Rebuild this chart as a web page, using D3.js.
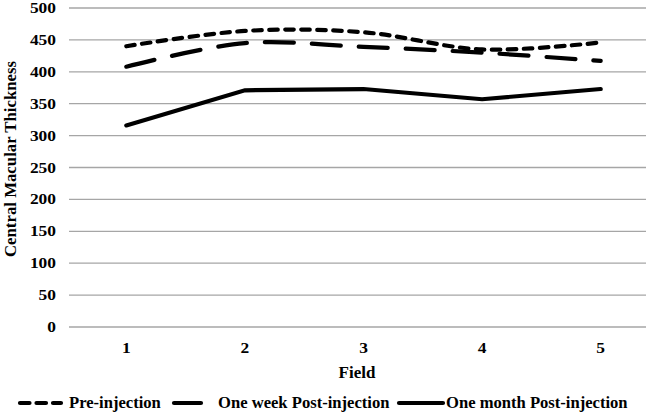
<!DOCTYPE html>
<html>
<head>
<meta charset="utf-8">
<script src="https://cdn.jsdelivr.net/npm/d3@7"></script>
<style>
  body { margin: 0; background: #fff; }
  text { font-family: "Liberation Serif", "Times New Roman", serif; font-weight: bold; fill: #000; }
</style>
</head>
<body>
<div id="chart"></div>
<script>
// chart data
const fields = ["1", "2", "3", "4", "5"];
const preInjection = [440, 464, 462, 435, 446];
const oneWeek = [408, 445, 439, 430, 417];
const oneMonth = [316, 371, 373, 357, 373];
const yTicks = [0, 50, 100, 150, 200, 250, 300, 350, 400, 450, 500];

const series = [
    { name: "Pre-injection", values: preInjection, dash: "8.5,7.5", smooth: true },
    { name: "One week Post-injection", values: oneWeek, dash: "29,18", smooth: true },
    { name: "One month Post-injection", values: oneMonth, dash: null, smooth: false }
];

const w = 646, h = 415;
const svg = d3.select("#chart").append("svg")
    .attr("width", w)
    .attr("height", h);

const x = d3.scaleBand().domain(fields).range([67, 660]);
const y = d3.scaleLinear().domain([0, 500]).range([327, 8]);

// gridlines
svg.append("g")
    .selectAll("line")
    .data(yTicks)
    .enter()
    .append("line")
    .attr("x1", 69)
    .attr("x2", w)
    .attr("y1", d => y(d))
    .attr("y2", d => y(d))
    .attr("stroke", "#a6a6a6")
    .attr("stroke-width", 1.3);

// y labels (digits in the reference are a bit wide, so stretch them)
svg.append("g")
    .selectAll("text")
    .data(yTicks)
    .enter()
    .append("text")
    .attr("transform", d => `translate(56, ${y(d) + 5}) scale(1.2, 1)`)
    .attr("text-anchor", "end")
    .style("font-size", "14.5px")
    .text(d => d);

// x labels
svg.append("g")
    .selectAll("text")
    .data(fields)
    .enter()
    .append("text")
    .attr("transform", d => `translate(${x(d) + x.bandwidth() / 2}, 353) scale(1.2, 1)`)
    .attr("text-anchor", "middle")
    .style("font-size", "14.5px")
    .text(d => d);

svg.append("text")
    .attr("x", 357)
    .attr("y", 378)
    .attr("text-anchor", "middle")
    .style("font-size", "17px")
    .text("Field");

svg.append("text")
    .attr("transform", "translate(16,159) rotate(-90)")
    .attr("text-anchor", "middle")
    .style("font-size", "16.8px")
    .text("Central Macular Thickness");

// lines
series.forEach(s => {
    const line = d3.line()
        .x((d, i) => x(fields[i]) + x.bandwidth() / 2)
        .y(d => y(d))
        .curve(s.smooth ? d3.curveCatmullRom.alpha(0.5) : d3.curveLinear);
    svg.append("path")
        .datum(s.values)
        .attr("d", line)
        .attr("fill", "none")
        .attr("stroke", "#000")
        .attr("stroke-width", 4.2)
        .attr("stroke-linecap", "round")
        .attr("stroke-dasharray", s.dash);
});

// legend
const legendPos = [
    { sx1: 20, sx2: 61, tx: 69 },
    { sx1: 174, sx2: 201, tx: 218 },
    { sx1: 399, sx2: 443, tx: 446 }
];
series.forEach((s, i) => {
    const p = legendPos[i];
    svg.append("line")
        .attr("x1", p.sx1).attr("x2", p.sx2)
        .attr("y1", 403).attr("y2", 403)
        .attr("stroke", "#000")
        .attr("stroke-width", 4.2)
        .attr("stroke-linecap", "round")
        .attr("stroke-dasharray", i === 0 ? "9.5,7" : null);
    svg.append("text")
        .attr("x", p.tx)
        .attr("y", 408)
        .style("font-size", "16.6px")
        .text(s.name);
});
</script>
</body>
</html>
